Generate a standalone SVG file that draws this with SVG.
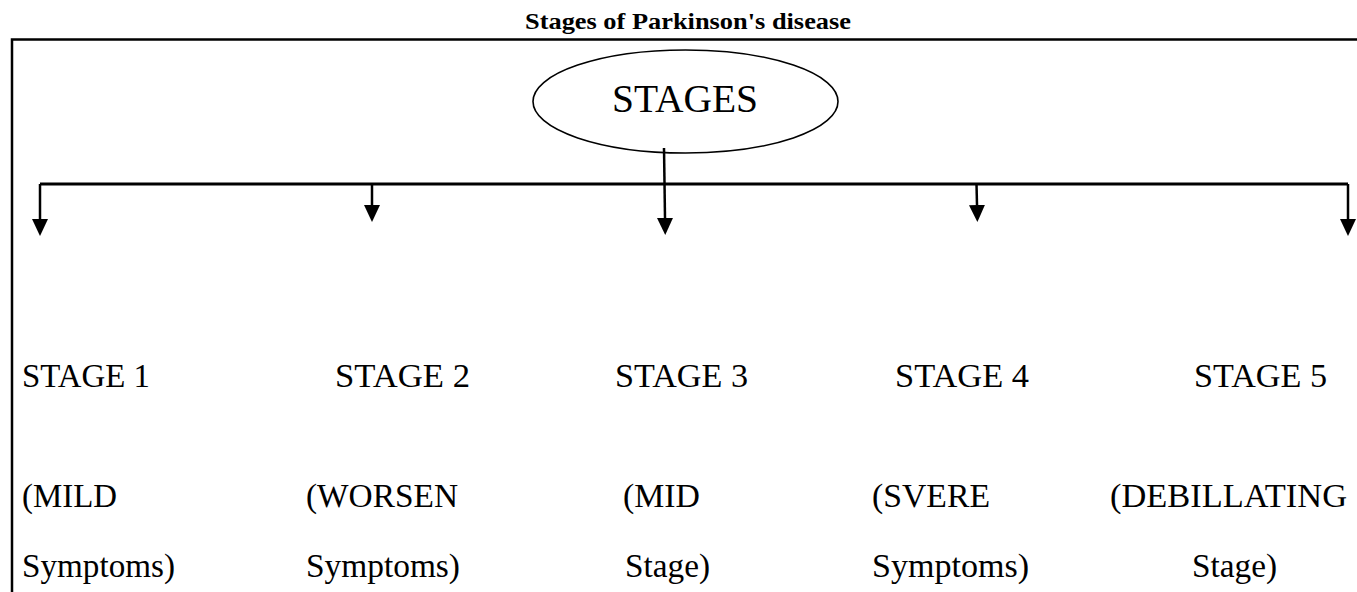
<svg xmlns="http://www.w3.org/2000/svg" width="1357" height="592" viewBox="0 0 1357 592">
  <style>
    .t { font-family: "Liberation Serif", "Times New Roman", serif; font-size: 33px; fill: #000; }
    .title { font-family: "Liberation Serif", "Times New Roman", serif; font-size: 23px; font-weight: bold; fill: #000; }
    .frame { stroke: #000; stroke-width: 2.5; fill: none; }
    .conn { stroke: #000; stroke-width: 2.5; fill: none; marker-end: url(#arr); }
    .bus { stroke: #000; stroke-width: 2.8; fill: none; }
  </style>
  <defs>
    <marker id="arr" markerUnits="userSpaceOnUse" markerWidth="17" markerHeight="16" refX="0" refY="8" orient="auto" viewBox="0 0 17 16">
      <path d="M0,0 L17,8 L0,16 z" fill="#000"/>
    </marker>
  </defs>
  <rect width="1357" height="592" fill="#fff"/>
  <text class="title" x="688" y="29" text-anchor="middle" textLength="326" lengthAdjust="spacingAndGlyphs">Stages of Parkinson's disease</text>
  <path class="frame" d="M12,592 V39.5 H1357"/>

  <g id="connectors">
    <path class="bus" d="M40,184 H1348"/>
    <path class="conn" d="M664,148 L665,218"/>
    <path class="conn" d="M40,184 V219"/>
    <path class="conn" d="M372,184 V205"/>
    <path class="conn" d="M976.5,184 L977,205"/>
    <path class="conn" d="M1348,184 V219"/>
  </g>

  <g id="root">
    <ellipse cx="685.5" cy="101.5" rx="152.5" ry="51.5" fill="none" stroke="#000" stroke-width="1.6"/>
    <text class="t" x="612" y="112" textLength="146" lengthAdjust="spacingAndGlyphs" style="font-size:39px">STAGES</text>
  </g>

  <g id="stage1">
    <text class="t" x="22" y="387" textLength="128" lengthAdjust="spacingAndGlyphs">STAGE 1</text>
    <text class="t" x="22" y="507" textLength="95" lengthAdjust="spacingAndGlyphs">(MILD</text>
    <text class="t" x="22" y="577" textLength="153" lengthAdjust="spacingAndGlyphs">Symptoms)</text>
  </g>
  <g id="stage2">
    <text class="t" x="335" y="387" textLength="135" lengthAdjust="spacingAndGlyphs">STAGE 2</text>
    <text class="t" x="306" y="507" textLength="152" lengthAdjust="spacingAndGlyphs">(WORSEN</text>
    <text class="t" x="306" y="577" textLength="154" lengthAdjust="spacingAndGlyphs">Symptoms)</text>
  </g>
  <g id="stage3">
    <text class="t" x="615" y="387" textLength="133" lengthAdjust="spacingAndGlyphs">STAGE 3</text>
    <text class="t" x="623" y="507" textLength="77" lengthAdjust="spacingAndGlyphs">(MID</text>
    <text class="t" x="625" y="577" textLength="85" lengthAdjust="spacingAndGlyphs">Stage)</text>
  </g>
  <g id="stage4">
    <text class="t" x="895" y="387" textLength="134" lengthAdjust="spacingAndGlyphs">STAGE 4</text>
    <text class="t" x="872" y="507" textLength="118" lengthAdjust="spacingAndGlyphs">(SVERE</text>
    <text class="t" x="872" y="577" textLength="157" lengthAdjust="spacingAndGlyphs">Symptoms)</text>
  </g>
  <g id="stage5">
    <text class="t" x="1194" y="387" textLength="133" lengthAdjust="spacingAndGlyphs">STAGE 5</text>
    <text class="t" x="1110" y="507" textLength="237" lengthAdjust="spacingAndGlyphs">(DEBILLATING</text>
    <text class="t" x="1192" y="577" textLength="85" lengthAdjust="spacingAndGlyphs">Stage)</text>
  </g>
</svg>
